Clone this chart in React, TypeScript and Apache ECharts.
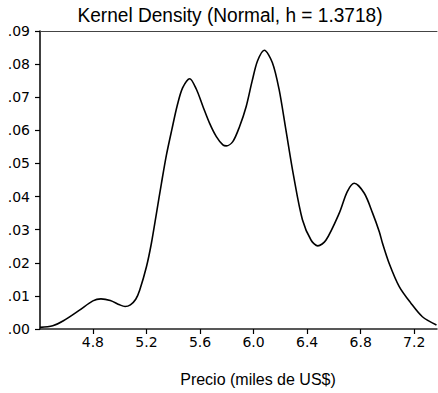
import React, { useEffect, useRef } from "react";
import * as echarts from "echarts";

const titleText = "Kernel Density (Normal, h = 1.3718)";
const xAxisTitle = "Precio (miles de US$)";

const priceGrid = [
  4.405, 4.5, 4.58, 4.7, 4.8, 4.86, 4.93, 5.0, 5.04, 5.08, 5.12, 5.15, 5.2,
  5.237, 5.275, 5.312, 5.349, 5.39, 5.43, 5.47, 5.523, 5.573, 5.622, 5.672,
  5.722, 5.771, 5.796, 5.845, 5.895, 5.945, 5.99, 6.03, 6.08, 6.14, 6.19, 6.24,
  6.3, 6.365, 6.43, 6.48, 6.54, 6.64, 6.7, 6.752, 6.827, 6.889, 6.939, 6.963,
  7.013, 7.088, 7.175, 7.261, 7.366,
];
const density = [
  0.0005, 0.001, 0.0025, 0.0057, 0.0085, 0.0091, 0.0086, 0.0073, 0.0068,
  0.0073, 0.009, 0.0118, 0.0188, 0.0259, 0.035, 0.044, 0.0525, 0.0603, 0.0675,
  0.0728, 0.0756, 0.0724, 0.0672, 0.0621, 0.0581, 0.0556, 0.0553, 0.0566,
  0.0611, 0.0672, 0.075, 0.081, 0.0842, 0.0805, 0.0725, 0.0605, 0.046, 0.033,
  0.0268, 0.0251, 0.0268, 0.035, 0.0415, 0.044, 0.041, 0.035, 0.0294, 0.0259,
  0.0198, 0.0128, 0.0078, 0.0037, 0.0012,
];
const xTicks = [4.8, 5.2, 5.6, 6.0, 6.4, 6.8, 7.2];

export default function App() {
  const ref = useRef<HTMLDivElement>(null);
  useEffect(() => {
    if (!ref.current) return;
    const chart = echarts.init(ref.current, null, { renderer: "svg" });
    const data = priceGrid.map((x, i) => [x, density[i]]);
    chart.setOption({
      animation: false,
      backgroundColor: "#ffffff",
      grid: { left: 40, right: 1, top: 31, bottom: 64, containLabel: false },
      graphic: [
        {
          type: "text",
          x: 230,
          y: 15,
          scaleX: 0.91,
          style: {
            text: titleText,
            textAlign: "center",
            textVerticalAlign: "middle",
            fontFamily: "Liberation Sans, Arial, sans-serif",
            fontSize: 21,
            fill: "#000",
          },
        },
        {
          type: "text",
          x: 258,
          y: 379,
          style: {
            text: xAxisTitle,
            textAlign: "center",
            textVerticalAlign: "middle",
            fontFamily: "Liberation Sans, Arial, sans-serif",
            fontSize: 16,
            fill: "#000",
          },
        },
      ],
      xAxis: [
        {
          type: "value",
          min: 4.405,
          max: 7.37,
          axisLine: { show: true, onZero: false, lineStyle: { color: "#222", width: 1.5 } },
          axisTick: {
            show: true,
            length: 5,
            customValues: xTicks,
            lineStyle: { color: "#000", width: 1.2 },
          },
          axisLabel: {
            customValues: xTicks,
            formatter: (v: number) => v.toFixed(1),
            margin: 6,
            fontFamily: "DejaVu Sans, sans-serif",
            fontSize: 14,
            color: "#000",
          },
          splitLine: { show: false },
        },
        {
          type: "value",
          position: "top",
          min: 4.405,
          max: 7.37,
          axisLine: { show: true, onZero: false, lineStyle: { color: "#444", width: 1 } },
          axisTick: { show: false },
          axisLabel: { show: false },
          splitLine: { show: false },
        },
      ],
      yAxis: {
        type: "value",
        min: 0,
        max: 0.09,
        interval: 0.01,
        axisLine: { show: true, lineStyle: { color: "#000", width: 1.5 } },
        axisTick: { show: true, length: 5, lineStyle: { color: "#000", width: 1.2 } },
        axisLabel: {
          formatter: (v: number) => v.toFixed(2).replace(/^0/, ""),
          margin: 10,
          fontFamily: "DejaVu Sans, sans-serif",
          fontSize: 14,
          color: "#000",
        },
        splitLine: { show: false },
      },
      series: [
        {
          type: "line",
          data,
          xAxisIndex: 0,
          showSymbol: false,
          smooth: 0.3,
          lineStyle: { color: "#000", width: 1.6 },
        },
      ],
    });
    return () => chart.dispose();
  }, []);
  return (
    <div
      ref={ref}
      style={{ position: "fixed", left: 0, top: 0, width: 438, height: 393 }}
    />
  );
}
